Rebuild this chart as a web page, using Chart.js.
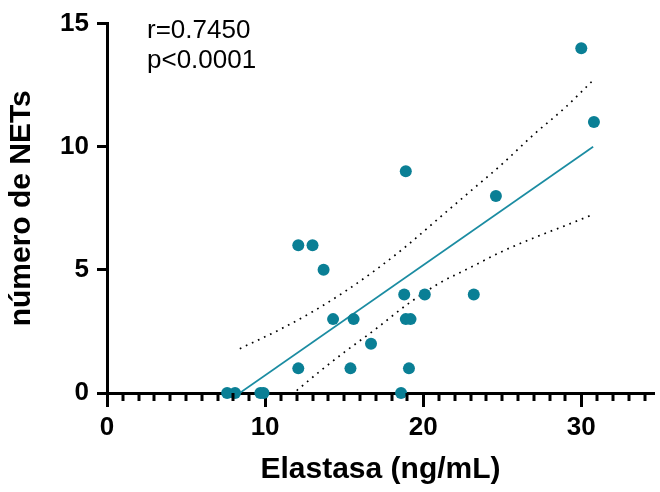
<!DOCTYPE html>
<html>
<head>
<meta charset="utf-8">
<script src="https://cdn.jsdelivr.net/npm/chart.js@4"></script>
<style>
  html, body { margin: 0; padding: 0; background: #fff; }
  #wrap { width: 660px; height: 492px; }
</style>
</head>
<body>
<div id="wrap"><canvas id="chart" width="660" height="492"></canvas></div>
<script>
/* ── Data ── */
const elastasa = [
  30.0, 30.8, 18.9, 24.6, 12.1, 13.0, 13.7, 18.8, 20.1, 23.2,
  14.3, 15.6, 18.9, 19.2, 16.7, 12.1, 15.4, 19.1,
  7.6, 8.1, 9.7, 9.9, 18.6,
];
const nets = [
  14, 11, 9, 8, 6, 6, 5, 4, 4, 4,
  3, 3, 3, 3, 2, 1, 1, 1,
  0, 0, 0, 0, 0,
];

/* regression line + 95% band (dotted) */
const fitX = [8.4, 30.75];
const fitY = [0, 10.0];
const upperX = [8.4, 11, 13, 15, 17, 19, 21, 23, 25, 27, 29, 30.75];
const upperY = [1.8, 2.6, 3.3, 4.1, 5.0, 6.0, 7.1, 8.2, 9.3, 10.5, 11.6, 12.7];
const lowerX = [12.0, 13.5, 15, 17, 19, 21, 23, 25, 27, 29, 30.75];
const lowerY = [0.1, 0.9, 1.65, 2.6, 3.6, 4.45, 5.1, 5.75, 6.3, 6.8, 7.25];

const xTicks = [0, 10, 20, 30];
const yTicks = [0, 5, 10, 15];
const statLines = ['r=0.7450', 'p<0.0001'];

const TEAL = '#0a7f95';
const FONT = "'Liberation Sans', Arial, sans-serif";
const toXY = (xs, ys) => xs.map((x, i) => ({ x, y: ys[i] }));

/* minor ticks on the x axis + stats text */
const extras = {
  id: 'extras',
  afterDraw(chart) {
    const { ctx } = chart;
    const xs = chart.scales.x;
    const y0 = chart.scales.y.getPixelForValue(0);
    ctx.save();
    ctx.strokeStyle = '#000';
    ctx.lineWidth = 3;
    for (let v = 1; v <= 34; v++) {
      if (v % 10 === 0) continue;
      const px = Math.round(xs.getPixelForValue(v));
      ctx.beginPath();
      ctx.moveTo(px, y0);
      ctx.lineTo(px, y0 + 8);
      ctx.stroke();
    }
    ctx.fillStyle = '#000';
    ctx.font = '26px ' + FONT;
    ctx.textBaseline = 'alphabetic';
    ctx.fillText(statLines[0], 147, 38);
    ctx.fillText(statLines[1], 147, 68);
    ctx.restore();
  },
};

const dotted = {
  type: 'line',
  borderColor: '#000',
  borderWidth: 1.7,
  borderDash: [1.7, 5],
  pointRadius: 0,
  cubicInterpolationMode: 'monotone',
  fill: false,
};

new Chart(document.getElementById('chart'), {
  type: 'scatter',
  data: {
    datasets: [
      {
        data: toXY(elastasa, nets),
        backgroundColor: TEAL,
        borderColor: TEAL,
        pointRadius: 6,
        borderWidth: 0,
        clip: false,
      },
      {
        type: 'line',
        data: toXY(fitX, fitY),
        borderColor: '#1b8ca2',
        borderWidth: 1.7,
        pointRadius: 0,
        fill: false,
      },
      { ...dotted, data: toXY(upperX, upperY) },
      { ...dotted, data: toXY(lowerX, lowerY) },
    ],
  },
  options: {
    responsive: false,
    animation: false,
    events: [],
    layout: { padding: { top: 20, right: 0, left: 0, bottom: 0 } },
    plugins: { legend: { display: false }, tooltip: { enabled: false } },
    scales: {
      x: {
        type: 'linear',
        min: 0,
        max: 34.6,
        afterFit(s) { s.height = 99; },
        afterBuildTicks(s) { s.ticks = xTicks.map(v => ({ value: v })); },
        border: { display: true, color: '#000', width: 3 },
        grid: { display: true, drawOnChartArea: false, color: '#000', tickLength: 14, tickWidth: 3 },
        ticks: {
          color: '#000',
          padding: 5,
          font: { family: FONT, size: 26, weight: 'bold' },
        },
        title: {
          display: true,
          text: 'Elastasa (ng/mL)',
          color: '#000',
          padding: { top: 2 },
          font: { family: FONT, size: 30, weight: 'bold' },
        },
      },
      y: {
        type: 'linear',
        min: 0,
        max: 15,
        afterFit(s) { s.width = 107; },
        afterBuildTicks(s) { s.ticks = yTicks.map(v => ({ value: v })); },
        border: { display: true, color: '#000', width: 3 },
        grid: { display: true, drawOnChartArea: false, color: '#000', tickLength: 10, tickWidth: 3 },
        ticks: {
          color: '#000',
          padding: 8,
          font: { family: FONT, size: 26, weight: 'bold' },
        },
        title: {
          display: true,
          text: 'número de NETs',
          color: '#000',
          padding: { bottom: 4 },
          font: { family: FONT, size: 30, weight: 'bold' },
        },
      },
    },
  },
  plugins: [extras],
});
</script>
</body>
</html>
